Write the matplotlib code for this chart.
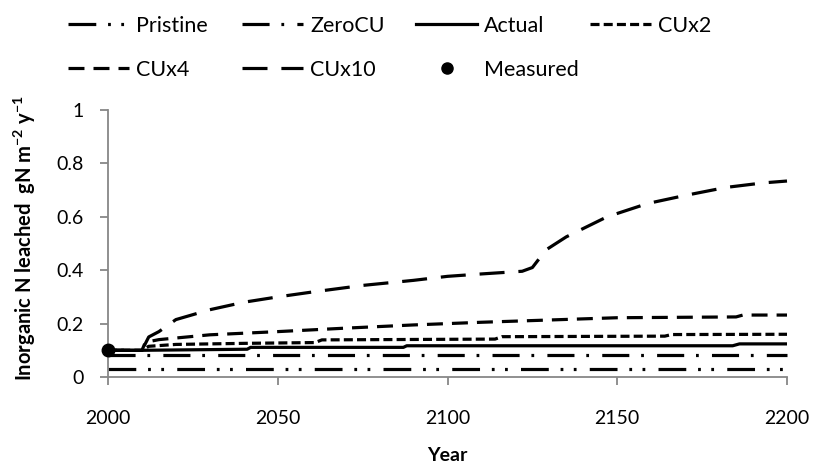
import matplotlib
matplotlib.use("Agg")
import matplotlib.pyplot as plt
from matplotlib.lines import Line2D

plt.rcParams['font.family'] = ['Lato', 'DejaVu Sans']
plt.rcParams['mathtext.fontset'] = 'custom'
plt.rcParams['mathtext.rm'] = 'Lato'
plt.rcParams['mathtext.bf'] = 'Lato:bold'
plt.rcParams['lines.scale_dashes'] = False

# Scenario trajectories (year, inorganic N leached gN m-2 y-1)
pristine_years = [2000, 2200]
pristine_vals = [0.03, 0.03]

zerocu_years = [2000, 2200]
zerocu_vals = [0.082, 0.082]

actual_years = [2000, 2010, 2041, 2042, 2087, 2088, 2184, 2186, 2200]
actual_vals = [0.100, 0.100, 0.104, 0.111, 0.111, 0.117, 0.117, 0.124, 0.124]

cux2_years = [2000, 2010, 2012, 2020, 2040, 2061, 2063, 2114, 2116, 2164, 2166, 2200]
cux2_vals = [0.100, 0.100, 0.115, 0.122, 0.126, 0.129, 0.139, 0.142, 0.151, 0.153, 0.159, 0.160]

cux4_years = [2000, 2010, 2011, 2015, 2020, 2030, 2050, 2070, 2090, 2110, 2150, 2185, 2187, 2200]
cux4_vals = [0.100, 0.100, 0.130, 0.140, 0.146, 0.158, 0.170, 0.183, 0.195, 0.205, 0.222, 0.225, 0.232, 0.232]

cux10_years = [2000, 2010, 2012, 2015, 2020, 2030, 2040, 2050, 2060, 2075, 2090, 2100,
               2110, 2122, 2125, 2129, 2135, 2147, 2159, 2170, 2182, 2193, 2200]
cux10_vals = [0.100, 0.100, 0.150, 0.170, 0.215, 0.252, 0.280, 0.300, 0.318, 0.343, 0.362, 0.377,
              0.386, 0.396, 0.410, 0.476, 0.525, 0.600, 0.650, 0.680, 0.710, 0.727, 0.734]

measured_year = [2000]
measured_val = [0.10]

x_ticks = [2000, 2050, 2100, 2150, 2200]
y_ticks = [0, 0.2, 0.4, 0.6, 0.8, 1]
y_tick_labels = ['0', '0.2', '0.4', '0.6', '0.8', '1']

lw = 2.3
styles = {
    'Pristine': (0, (20, 8.5, 2, 7.5, 2, 9.5)),
    'ZeroCU': (0, (19.5, 8.5, 2, 9.5)),
    'Actual': '-',
    'CUx2': (0, (6.5, 3)),
    'CUx4': (0, (11.5, 6.5)),
    'CUx10': (0, (18, 10)),
}

fig = plt.figure(figsize=(8.14, 4.73), dpi=100)
ax = fig.add_axes([108 / 814, 1 - 377 / 473, (787 - 108) / 814, (377 - 110) / 473])

series = [
    ('Pristine', pristine_years, pristine_vals),
    ('ZeroCU', zerocu_years, zerocu_vals),
    ('Actual', actual_years, actual_vals),
    ('CUx2', cux2_years, cux2_vals),
    ('CUx4', cux4_years, cux4_vals),
    ('CUx10', cux10_years, cux10_vals),
]
for name, xs, ys in series:
    ax.plot(xs, ys, color='black', lw=lw, linestyle=styles[name],
            dash_capstyle='butt', solid_capstyle='butt', clip_on=False)
ax.plot(measured_year, measured_val, 'o', color='black', ms=9, clip_on=False, zorder=5)

ax.set_xlim(2000, 2200)
ax.set_ylim(0, 1)
ax.set_xticks(x_ticks)
ax.set_yticks(y_ticks)
ax.set_yticklabels(y_tick_labels)
for side in ('top', 'right'):
    ax.spines[side].set_visible(False)
for side in ('left', 'bottom'):
    ax.spines[side].set_color('#878787')
    ax.spines[side].set_linewidth(1.3)
ax.tick_params(axis='both', colors='#878787', labelcolor='black', labelsize=14,
               length=6, width=1.3, direction='out')
ax.tick_params(axis='x', pad=18)
ax.tick_params(axis='y', pad=11.5)

ax.set_xlabel('Year', fontsize=14, fontweight='bold', labelpad=14)
ax.set_ylabel(r'Inorganic N leached  gN m$^{\mathbf{-2}}$ y$^{\mathbf{-1}}$', fontsize=14.5,
              fontweight='bold')
ax.yaxis.set_label_coords(-0.103, 0.52)

# Legend: four equally spaced columns, one legend per column
handle_map = {name: Line2D([], [], color='black', lw=lw, linestyle=styles[name],
                           dash_capstyle='butt') for name, _, _ in series}
handle_map['Measured'] = Line2D([], [], color='black', marker='o', ms=8, linestyle='none')
legend_columns = [['Pristine', 'CUx4'], ['ZeroCU', 'CUx10'], ['Actual', 'Measured'], ['CUx2']]
col_left_px = 68
col_pitch_px = 174
for i, names in enumerate(legend_columns):
    leg = fig.legend([handle_map[n] for n in names], names, loc='upper left',
                     bbox_to_anchor=((col_left_px + i * col_pitch_px) / 814, 1 - 16 / 473),
                     frameon=False, fontsize=15.5, borderpad=0, borderaxespad=0,
                     handlelength=2.85, handletextpad=0.32, labelspacing=1.1)

fig.savefig('out.png', dpi=100)
